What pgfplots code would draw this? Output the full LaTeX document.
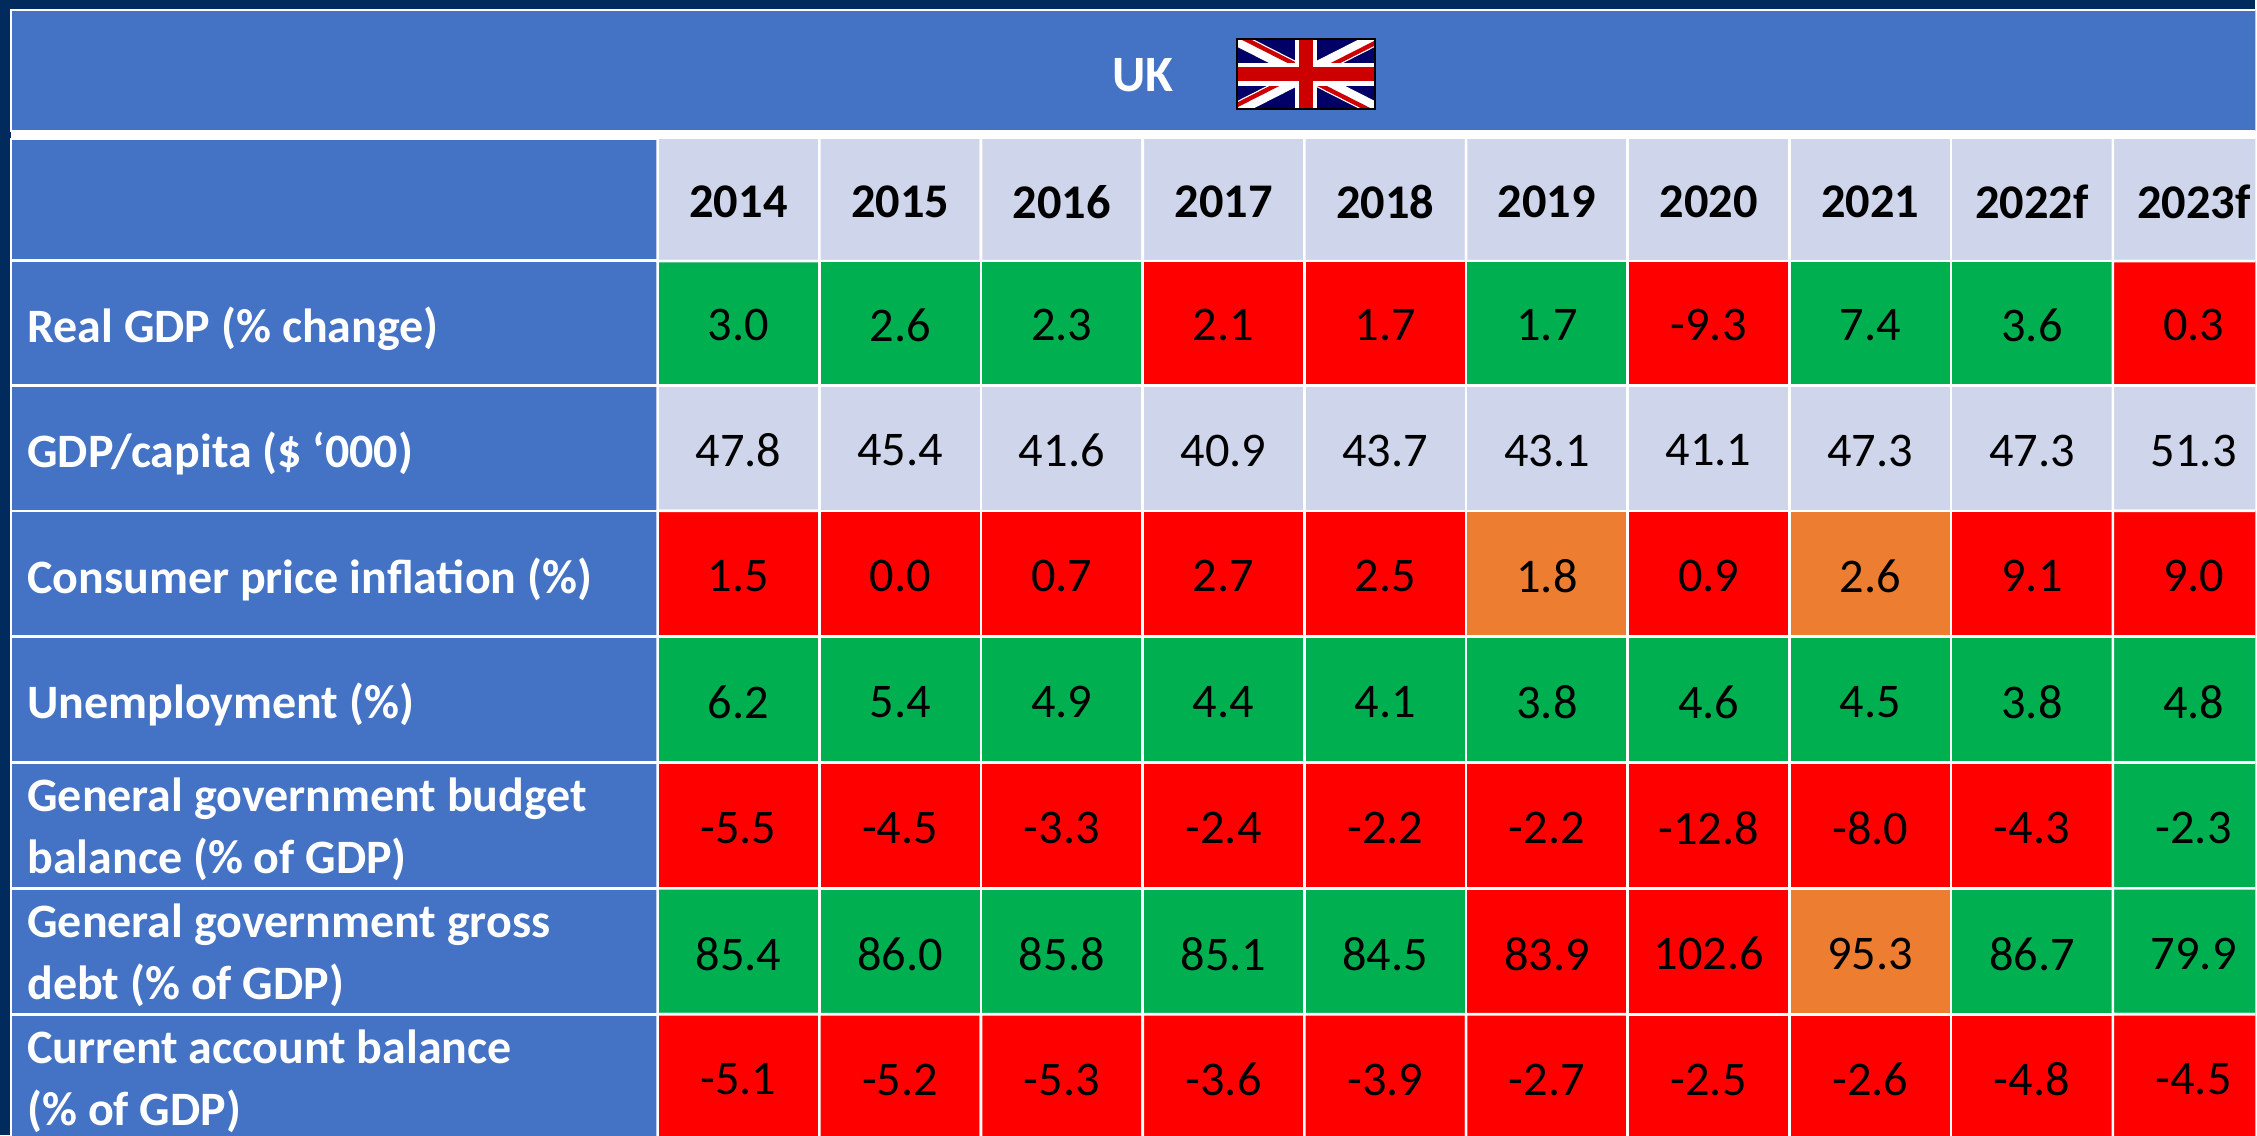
\documentclass[border=0pt]{standalone}
\usepackage{fontspec}
\setmainfont{Carlito}
\usepackage{pgfplots}
\usepackage{pgfplotstable}
\pgfplotsset{compat=1.18}
\definecolor{bg}{HTML}{002B5C}
\definecolor{band}{HTML}{4472C4}
\definecolor{good}{HTML}{00B050}
\definecolor{bad}{HTML}{FF0000}
\definecolor{warn}{HTML}{ED7D31}
\definecolor{pale}{HTML}{CFD5EA}
\definecolor{flagblue}{HTML}{000066}
\definecolor{flagred}{HTML}{CC0000}
% c: 0 green, 1 red, 2 orange, 3 pale
\pgfplotstableread[row sep=\\]{
x y c lab \\
739 199.5 3 \textbf{2014} \\ 900.8 199.5 3 \textbf{2015} \\ 1062.6 199.5 3 \textbf{2016} \\ 1224.4 199.5 3 \textbf{2017} \\ 1386.2 199.5 3 \textbf{2018} \\ 1548 199.5 3 \textbf{2019} \\ 1709.8 199.5 3 \textbf{2020} \\ 1871.6 199.5 3 \textbf{2021} \\ 2033.4 199.5 3 \textbf{2022f} \\ 2195.2 199.5 3 \textbf{2023f} \\
739 323 0 3.0 \\ 900.8 323 0 2.6 \\ 1062.6 323 0 2.3 \\ 1224.4 323 1 2.1 \\ 1386.2 323 1 1.7 \\ 1548 323 0 1.7 \\ 1709.8 323 1 -9.3 \\ 1871.6 323 0 7.4 \\ 2033.4 323 0 3.6 \\ 2195.2 323 1 0.3 \\
739 448.5 3 47.8 \\ 900.8 448.5 3 45.4 \\ 1062.6 448.5 3 41.6 \\ 1224.4 448.5 3 40.9 \\ 1386.2 448.5 3 43.7 \\ 1548 448.5 3 43.1 \\ 1709.8 448.5 3 41.1 \\ 1871.6 448.5 3 47.3 \\ 2033.4 448.5 3 47.3 \\ 2195.2 448.5 3 51.3 \\
739 574 1 1.5 \\ 900.8 574 1 0.0 \\ 1062.6 574 1 0.7 \\ 1224.4 574 1 2.7 \\ 1386.2 574 1 2.5 \\ 1548 574 2 1.8 \\ 1709.8 574 1 0.9 \\ 1871.6 574 2 2.6 \\ 2033.4 574 1 9.1 \\ 2195.2 574 1 9.0 \\
739 700 0 6.2 \\ 900.8 700 0 5.4 \\ 1062.6 700 0 4.9 \\ 1224.4 700 0 4.4 \\ 1386.2 700 0 4.1 \\ 1548 700 0 3.8 \\ 1709.8 700 0 4.6 \\ 1871.6 700 0 4.5 \\ 2033.4 700 0 3.8 \\ 2195.2 700 0 4.8 \\
739 826 1 -5.5 \\ 900.8 826 1 -4.5 \\ 1062.6 826 1 -3.3 \\ 1224.4 826 1 -2.4 \\ 1386.2 826 1 -2.2 \\ 1548 826 1 -2.2 \\ 1709.8 826 1 -12.8 \\ 1871.6 826 1 -8.0 \\ 2033.4 826 1 -4.3 \\ 2195.2 826 0 -2.3 \\
739 952 0 85.4 \\ 900.8 952 0 86.0 \\ 1062.6 952 0 85.8 \\ 1224.4 952 0 85.1 \\ 1386.2 952 0 84.5 \\ 1548 952 1 83.9 \\ 1709.8 952 1 102.6 \\ 1871.6 952 2 95.3 \\ 2033.4 952 0 86.7 \\ 2195.2 952 0 79.9 \\
739 1078 1 -5.1 \\ 900.8 1078 1 -5.2 \\ 1062.6 1078 1 -5.3 \\ 1224.4 1078 1 -3.6 \\ 1386.2 1078 1 -3.9 \\ 1548 1078 1 -2.7 \\ 1709.8 1078 1 -2.5 \\ 1871.6 1078 1 -2.6 \\ 2033.4 1078 1 -4.8 \\ 2195.2 1078 1 -4.5 \\
}\cells
\begin{document}
\begin{tikzpicture}
\begin{axis}[
    scale only axis,
    width=1128.5pt,
    height=568pt,
    xmin=0, xmax=2257,
    ymin=0, ymax=1136,
    y dir=reverse,
    hide axis,
    colormap={status}{color=(good) color=(bad) color=(warn) color=(pale)},
    colormap access=direct,
    every node near coord/.append style={text=black, yshift=-1.2pt, font=\fontsize{24.2}{28}\selectfont},
    nodes near coords align=center,
]
% page, title band and label column
\addplot[fill=bg, draw=none] coordinates {(0,0) (2257,0) (2257,1136) (0,1136)} --cycle;
\addplot[fill=band, draw=white, line width=1pt] coordinates {(11,10) (2270,10) (2270,131) (11,131)} --cycle;
\addplot[fill=white, draw=none] coordinates {(11,131) (2257,131) (2257,139) (11,139)} --cycle;
\addplot[fill=band, draw=white, line width=1pt] coordinates {(11,139) (658,139) (658,1150) (11,1150)} --cycle;
\addplot[white, line width=1.3pt] coordinates {(11,260.5) (658,260.5)};
\addplot[white, line width=1.3pt] coordinates {(11,386) (658,386)};
\addplot[white, line width=1.3pt] coordinates {(11,511.5) (658,511.5)};
\addplot[white, line width=1.3pt] coordinates {(11,637) (658,637)};
\addplot[white, line width=1.3pt] coordinates {(11,763) (658,763)};
\addplot[white, line width=1.3pt] coordinates {(11,889) (658,889)};
\addplot[white, line width=1.3pt] coordinates {(11,1015) (658,1015)};
% the grid of coloured cells
\addplot[matrix plot, mesh/cols=10, point meta=explicit, faceted color=white, draw=white, line width=1.3pt]
    table[x=x, y=y, meta=c] {\cells};
% the values
\addplot[only marks, mark=none, point meta=explicit symbolic, nodes near coords]
    table[x=x, y=y, meta=lab] {\cells};
% title and flag
\node[text=white, font=\fontsize{25.5}{30}\selectfont\bfseries] at (1144,75) {UK};
\fill[flagblue] (1238,39) rectangle (1376,109);
\begin{scope}
\clip (1238,39) rectangle (1376,109);
\draw[white, line width=7pt] (1238,39) -- (1376,109);
\draw[white, line width=7pt] (1238,109) -- (1376,39);
\begin{scope}\clip (1238,39) rectangle (1307,74); \draw[flagred, line width=2.2pt] (1238,35) -- (1307,70); \end{scope}
\begin{scope}\clip (1376,39) rectangle (1307,74); \draw[flagred, line width=2.2pt] (1376,43) -- (1307,78); \end{scope}
\begin{scope}\clip (1238,109) rectangle (1307,74); \draw[flagred, line width=2.2pt] (1238,105) -- (1307,70); \end{scope}
\begin{scope}\clip (1376,109) rectangle (1307,74); \draw[flagred, line width=2.2pt] (1376,113) -- (1307,78); \end{scope}
\fill[white] (1296,39) rectangle (1318,109);
\fill[white] (1238,63) rectangle (1376,86);
\fill[flagred] (1300,39) rectangle (1314,109);
\fill[flagred] (1238,67) rectangle (1376,81);
\end{scope}
\draw[black, line width=1pt] (1238,39) rectangle (1376,109);
% row labels
\begin{scope}[every node/.style={anchor=west, align=left, inner sep=0pt, text=white, font=\fontsize{24}{31}\selectfont\bfseries}]
\node at (27,329) {Real GDP (\% change)};
\node at (27,454) {GDP/capita (\$ ‘000)};
\node at (27,580) {Consumer price inflation (\%)};
\node at (27,705) {Unemployment (\%)};
\node at (27,830) {General government budget\\balance (\% of GDP)};
\node at (27,956) {General government gross\\debt (\% of GDP)};
\node at (27,1082) {Current account balance\\(\% of GDP)};
\end{scope}
\end{axis}
\end{tikzpicture}
\end{document}
